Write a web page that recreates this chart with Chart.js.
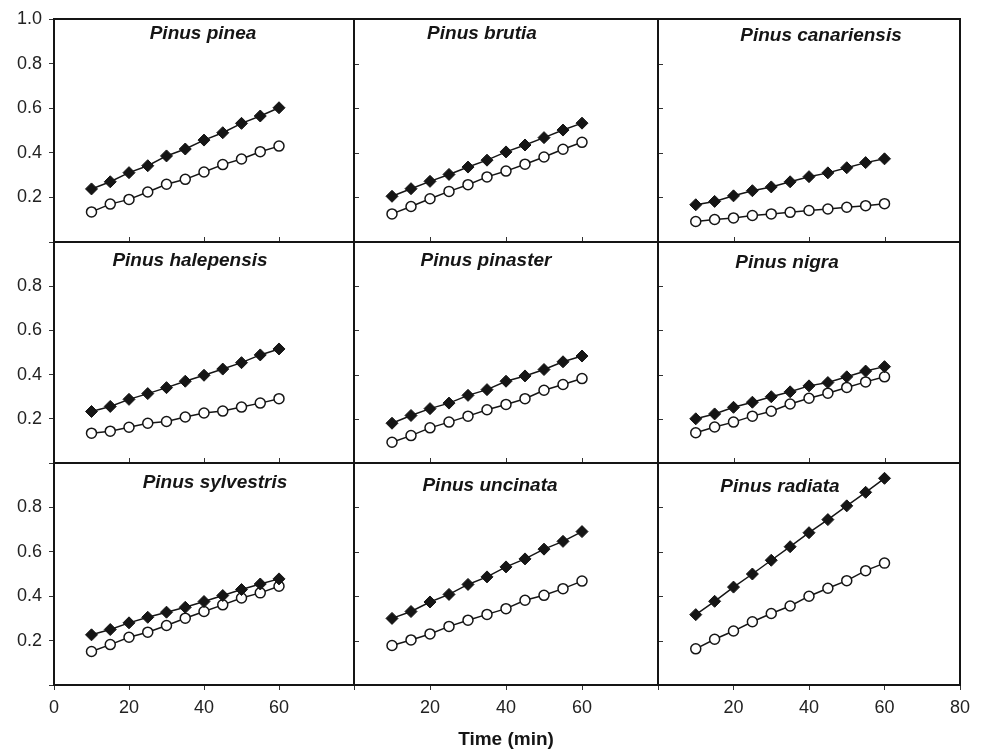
<!DOCTYPE html>
<html>
<head>
<meta charset="utf-8">
<script src="https://cdn.jsdelivr.net/npm/chart.js@4.4.1/dist/chart.umd.min.js"></script>
<style>
  body { margin: 0; background: #fff; width: 981px; height: 751px; position: relative; overflow: hidden; }
  canvas.panel { position: absolute; }
</style>
</head>
<body>
<script>
// Data
const times = [10, 15, 20, 25, 30, 35, 40, 45, 50, 55, 60];
const xTickValues = [0, 20, 40, 60, 80];
const yTickValues = [0.2, 0.4, 0.6, 0.8];
const species = ['Pinus pinea', 'Pinus brutia', 'Pinus canariensis',
                 'Pinus halepensis', 'Pinus pinaster', 'Pinus nigra',
                 'Pinus sylvestris', 'Pinus uncinata', 'Pinus radiata'];

const pineaSolid = [0.238, 0.270, 0.311, 0.342, 0.386, 0.417, 0.457, 0.490, 0.532, 0.565, 0.602];
const pineaOpen = [0.135, 0.170, 0.191, 0.224, 0.259, 0.281, 0.314, 0.347, 0.372, 0.405, 0.430];
const brutiaSolid = [0.205, 0.239, 0.272, 0.303, 0.336, 0.367, 0.404, 0.435, 0.468, 0.502, 0.533];
const brutiaOpen = [0.126, 0.159, 0.194, 0.227, 0.257, 0.292, 0.318, 0.349, 0.381, 0.416, 0.447];
const canariensisSolid = [0.167, 0.182, 0.207, 0.230, 0.247, 0.270, 0.293, 0.310, 0.333, 0.356, 0.373];
const canariensisOpen = [0.092, 0.101, 0.108, 0.119, 0.126, 0.133, 0.141, 0.148, 0.156, 0.163, 0.172];
const halepensisSolid = [0.233, 0.256, 0.288, 0.314, 0.341, 0.370, 0.397, 0.425, 0.454, 0.489, 0.516];
const halepensisOpen = [0.135, 0.144, 0.162, 0.180, 0.188, 0.208, 0.226, 0.235, 0.253, 0.271, 0.291];
const pinasterSolid = [0.180, 0.215, 0.246, 0.271, 0.306, 0.332, 0.370, 0.394, 0.423, 0.458, 0.484];
const pinasterOpen = [0.094, 0.124, 0.159, 0.185, 0.212, 0.241, 0.265, 0.291, 0.329, 0.355, 0.382];
const nigraSolid = [0.200, 0.222, 0.252, 0.275, 0.300, 0.322, 0.349, 0.364, 0.390, 0.416, 0.436];
const nigraOpen = [0.137, 0.163, 0.185, 0.212, 0.234, 0.267, 0.293, 0.316, 0.342, 0.367, 0.390];
const sylvestrisSolid = [0.226, 0.250, 0.280, 0.305, 0.328, 0.350, 0.376, 0.403, 0.430, 0.455, 0.478];
const sylvestrisOpen = [0.151, 0.182, 0.215, 0.238, 0.268, 0.301, 0.331, 0.361, 0.392, 0.415, 0.445];
const uncinataSolid = [0.300, 0.331, 0.374, 0.408, 0.453, 0.487, 0.532, 0.568, 0.612, 0.647, 0.691];
const uncinataOpen = [0.178, 0.203, 0.230, 0.264, 0.292, 0.318, 0.344, 0.382, 0.404, 0.434, 0.468];
const radiataSolid = [0.317, 0.377, 0.441, 0.500, 0.562, 0.623, 0.686, 0.745, 0.807, 0.868, 0.931];
const radiataOpen = [0.163, 0.206, 0.243, 0.285, 0.322, 0.356, 0.400, 0.436, 0.470, 0.515, 0.549];

const solidSeries = [pineaSolid, brutiaSolid, canariensisSolid, halepensisSolid, pinasterSolid,
                     nigraSolid, sylvestrisSolid, uncinataSolid, radiataSolid];
const openSeries = [pineaOpen, brutiaOpen, canariensisOpen, halepensisOpen, pinasterOpen,
                    nigraOpen, sylvestrisOpen, uncinataOpen, radiataOpen];

// Layout of the 3x3 grid (page pixels)
const colLeft = [54, 354, 658];
const colRight = [354, 658, 960];
const rowTop = [19, 242, 463];
const rowBottom = [242, 463, 685];
const titleOffset = [[149, 15], [128, 15], [163, 17],
                     [136, 19], [132, 19], [129, 21],
                     [161, 20], [136, 23], [122, 24]];
const PAD = 12;
const Y_AXIS_W = 54;
const X_AXIS_H = 66;
const FONT = '"Liberation Sans", Arial, Helvetica, sans-serif';
const INK = '#151515';

// Panel frame, inward tick marks and italic species name
const framePlugin = {
  id: 'frame',
  afterDraw(chart, args, opts) {
    const { ctx, chartArea: a, scales } = chart;
    ctx.save();
    ctx.strokeStyle = '#333';
    ctx.lineWidth = 1;
    ctx.beginPath();
    if (opts.innerY) {
      yTickValues.forEach(v => {
        const y = Math.round(scales.y.getPixelForValue(v)) + 0.5;
        ctx.moveTo(a.left, y);
        ctx.lineTo(a.left + 5, y);
      });
    }
    if (opts.innerX) {
      xTickValues.slice(1, 4).forEach(v => {
        const x = Math.round(scales.x.getPixelForValue(v)) + 0.5;
        ctx.moveTo(x, a.bottom);
        ctx.lineTo(x, a.bottom - 5);
      });
    }
    ctx.stroke();
    ctx.lineWidth = 2;
    ctx.strokeStyle = INK;
    ctx.strokeRect(a.left, a.top, a.right - a.left, a.bottom - a.top);
    ctx.font = 'italic bold 19px ' + FONT;
    ctx.fillStyle = INK;
    ctx.textAlign = 'center';
    ctx.textBaseline = 'middle';
    ctx.fillText(opts.text, a.left + opts.dx, a.top + opts.dy);
    ctx.restore();
  }
};

species.forEach((name, i) => {
  const col = i % 3;
  const row = Math.floor(i / 3);
  const isLeft = col === 0;
  const isBottom = row === 2;

  const left = colLeft[col] - (isLeft ? Y_AXIS_W : PAD);
  const top = rowTop[row] - PAD;
  const width = colRight[col] + PAD - left;
  const height = rowBottom[row] + (isBottom ? X_AXIS_H : PAD) - top;

  const canvas = document.createElement('canvas');
  canvas.className = 'panel';
  canvas.width = width;
  canvas.height = height;
  canvas.style.left = left + 'px';
  canvas.style.top = top + 'px';
  canvas.style.width = width + 'px';
  canvas.style.height = height + 'px';
  document.body.appendChild(canvas);

  new Chart(canvas.getContext('2d'), {
    type: 'line',
    data: {
      datasets: [{
        data: times.map((t, k) => ({ x: t, y: solidSeries[i][k] })),
        borderColor: INK,
        borderWidth: 1.5,
        pointStyle: 'rectRot',
        pointRadius: 6,
        pointBackgroundColor: INK,
        pointBorderColor: INK,
        pointBorderWidth: 1
      }, {
        data: times.map((t, k) => ({ x: t, y: openSeries[i][k] })),
        borderColor: INK,
        borderWidth: 1.5,
        pointStyle: 'circle',
        pointRadius: 5,
        pointBackgroundColor: '#fff',
        pointBorderColor: INK,
        pointBorderWidth: 1.5
      }]
    },
    options: {
      responsive: false,
      animation: false,
      devicePixelRatio: 1,
      layout: {
        padding: { left: isLeft ? 0 : PAD, right: PAD, top: PAD, bottom: isBottom ? 0 : PAD }
      },
      plugins: {
        legend: { display: false },
        tooltip: { enabled: false },
        frame: {
          text: name,
          dx: titleOffset[i][0],
          dy: titleOffset[i][1],
          innerY: !isLeft,
          innerX: !isBottom
        }
      },
      scales: {
        x: {
          type: 'linear',
          min: 0,
          max: 80,
          display: isBottom,
          afterFit: s => {
            if (!isBottom) return;
            s.height = X_AXIS_H;
            s.paddingLeft = 0;
            s.paddingRight = 0;
          },
          border: { display: false },
          grid: { drawOnChartArea: false, drawTicks: true, tickLength: 5, color: '#333' },
          ticks: {
            stepSize: 20,
            padding: 7,
            color: '#222',
            font: { family: FONT, size: 18 },
            maxRotation: 0,
            callback: v => {
              if (col > 0 && v === 0) return '';
              if (col < 2 && v === 80) return '';
              return String(v);
            }
          },
          title: {
            display: col === 1,
            text: 'Time (min)',
            color: INK,
            font: { family: FONT, size: 19, weight: 'bold' },
            padding: { top: 0, bottom: 0 }
          }
        },
        y: {
          min: 0,
          max: 1,
          display: isLeft,
          afterFit: s => {
            if (!isLeft) return;
            s.width = Y_AXIS_W;
            s.paddingTop = 0;
            s.paddingBottom = 0;
          },
          border: { display: false },
          grid: { drawOnChartArea: false, drawTicks: true, tickLength: 5, color: '#333' },
          ticks: {
            stepSize: 0.2,
            padding: 7,
            color: '#222',
            font: { family: FONT, size: 18 },
            callback: v => {
              if (Math.abs(v) < 1e-9) return '';
              if (Math.abs(v - 1) < 1e-9) return i === 0 ? '1.0' : '';
              return v.toFixed(1);
            }
          }
        }
      }
    },
    plugins: [framePlugin]
  });
});
</script>
</body>
</html>
